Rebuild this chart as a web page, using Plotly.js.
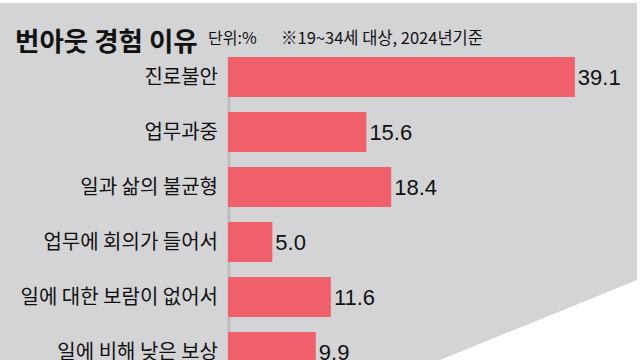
<!DOCTYPE html>
<html>
<head>
<meta charset="utf-8">
<script src="https://cdn.plot.ly/plotly-3.0.1.min.js"></script>
<style>html,body{margin:0;padding:0;background:#fff;}#chart{width:640px;height:360px;}</style>
</head>
<body>
<div id="chart"></div>
<script>
const categories = ['진로불안', '업무과중', '일과 삶의 불균형', '업무에 회의가 들어서', '일에 대한 보람이 없어서', '일에 비해 낮은 보상'];
const values = [39.1, 15.6, 18.4, 5.0, 11.6, 9.9];
const valueLabels = values.map(v => v.toFixed(1));
const chartTitle = '번아웃 경험 이유';
const unitNote = '단위:%';
const sourceNote = '※19~34세 대상, 2024년기준';

const KR = '"Noto Sans CJK KR", "Noto Sans", sans-serif';
const NUM = '"Liberation Sans", Arial, sans-serif';

// layout geometry helpers (pixels -> paper)
const L = 228, W = 640 - L, H = 360;
const px = x => (x - L) / W;
const py = y => 1 - y / H;

const trace = {
  type: 'bar',
  orientation: 'h',
  y: categories,
  x: values,
  text: valueLabels,
  textposition: 'outside',
  cliponaxis: false,
  textfont: {family: NUM, size: 22, color: '#111'},
  marker: {color: '#f0606a', line: {width: 0}},
  hoverinfo: 'none'
};

const greyPath = `M ${px(0)},${py(3)} L ${px(637)},${py(3)} L ${px(637)},${py(280)} L ${px(440)},${py(360)} L ${px(0)},${py(360)} Z`;

const layout = {
  width: 640, height: 360,
  margin: {l: L, r: 0, t: 0, b: 0},
  paper_bgcolor: '#ffffff',
  plot_bgcolor: 'rgba(0,0,0,0)',
  showlegend: false,
  bargap: 0.273,
  xaxis: {range: [0, W / 8.87], visible: false, fixedrange: true},
  yaxis: {
    type: 'category',
    range: [(H - 77) / 55, -77 / 55],
    autorange: false,
    showgrid: false, zeroline: false, showline: false, ticks: '',
    ticklabelstandoff: 9,
    tickfont: {family: KR, size: 20, color: '#111'},
    fixedrange: true
  },
  shapes: [
    {type: 'path', xref: 'paper', yref: 'paper', path: greyPath, fillcolor: '#d4d4d6', line: {width: 0}, layer: 'below'},
    {type: 'line', xref: 'paper', yref: 'paper', x0: px(229), x1: px(229), y0: py(57), y1: py(360), line: {color: 'rgba(0,0,0,0.10)', width: 3}, layer: 'below'}
  ],
  annotations: [
    {xref: 'paper', yref: 'paper', x: px(13), y: py(39), xanchor: 'left', yanchor: 'middle', showarrow: false,
     text: '<b>' + chartTitle + '</b>', font: {family: KR, size: 26.5, color: '#111'}},
    {xref: 'paper', yref: 'paper', x: px(206), y: py(37), xanchor: 'left', yanchor: 'middle', showarrow: false,
     text: unitNote, font: {family: KR, size: 16, color: '#111'}},
    {xref: 'paper', yref: 'paper', x: px(279), y: py(37), xanchor: 'left', yanchor: 'middle', showarrow: false,
     text: sourceNote, font: {family: KR, size: 16.5, color: '#111'}}
  ]
};

Plotly.newPlot('chart', [trace], layout, {displayModeBar: false, staticPlot: true});
</script>
</body>
</html>
